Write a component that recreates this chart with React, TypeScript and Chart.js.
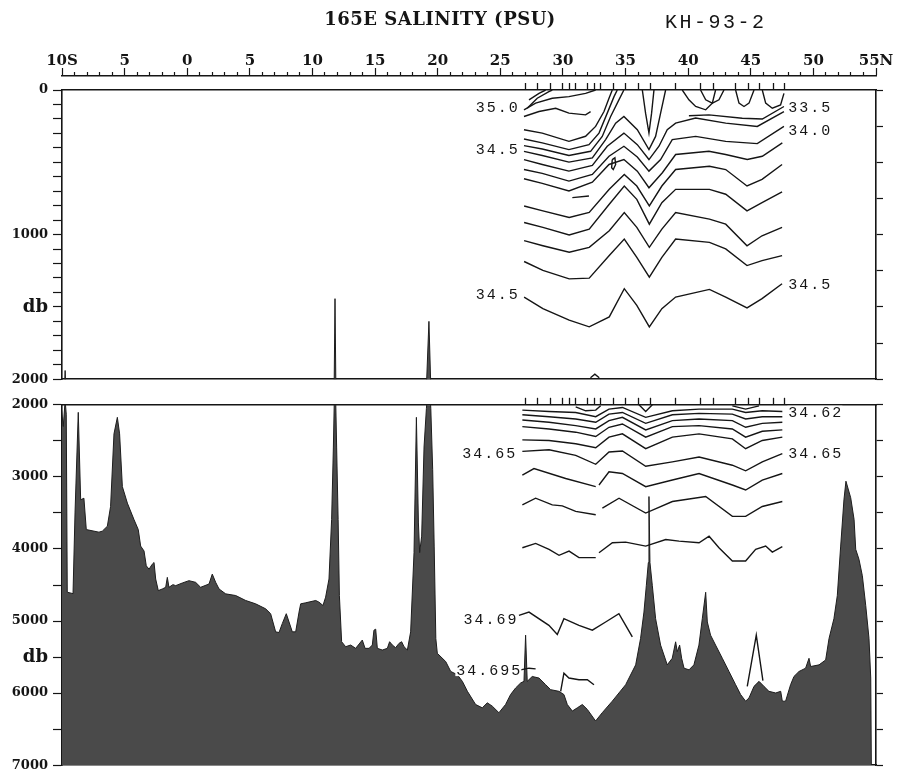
import { useEffect, useRef } from 'react';
import { Chart, registerables } from 'chart.js';
Chart.register(...registerables);

const INK = '#151515';
const LAT_MIN = -10;
const LAT_MAX = 55;

const titleText = '165E SALINITY (PSU)';
const cruiseText = 'KH-93-2';

// ---- axis tick labels ----
const latMajorTicks = [-10, -5, 0, 5, 10, 15, 20, 25, 30, 35, 40, 45, 50, 55];
const latMajorLabels = ['10S', '5', '0', '5', '10', '15', '20', '25', '30', '35', '40', '45', '50', '55N'];
const upperDbTicks = [0, 1000, 1500, 2000];
const upperDbLabels = ['0', '1000', 'db', '2000'];
const lowerDbTicks = [2000, 3000, 4000, 5000, 5500, 6000, 7000];
const lowerDbLabels = ['2000', '3000', '4000', '5000', 'db', '6000', '7000'];

// ---- CTD station latitudes (deg N) ----
const stationLat = [27, 28, 29, 30, 30.5, 31, 32, 32.5, 33, 34, 35, 36, 37, 39, 41, 42, 43.8, 44.8, 45.7, 46.8, 47.7];

// ---- bottom topography [lat, db] ----
const bathymetry: [number, number][] = [
  [-10.2, 2400], [-10.05, 2050], [-9.9, 2300], [-9.75, 1940], [-9.66, 2130], [-9.58, 4600], [-9.12, 4620],
  [-8.96, 3500], [-8.7, 2105], [-8.51, 3318], [-8.25, 3296], [-8.06, 3731], [-7.05, 3767], [-6.78, 3753],
  [-6.38, 3685], [-6.12, 3410], [-5.85, 2403], [-5.58, 2174], [-5.4, 2403], [-5.18, 3135], [-4.78, 3364],
  [-4.25, 3593], [-3.91, 3731], [-3.72, 3960], [-3.45, 4028], [-3.27, 4234], [-3.05, 4280], [-2.79, 4211],
  [-2.65, 4188], [-2.52, 4417], [-2.31, 4578], [-1.99, 4555], [-1.72, 4532], [-1.59, 4394], [-1.46, 4532],
  [-1.14, 4495], [-0.92, 4509], [-0.39, 4472], [0.14, 4440], [0.67, 4463], [1.07, 4532], [1.74, 4486],
  [2.0, 4349], [2.27, 4463], [2.54, 4555], [3.07, 4623], [3.87, 4646], [4.67, 4715], [5.46, 4761],
  [6.26, 4830], [6.66, 4898], [7.06, 5150], [7.33, 5159], [7.59, 5036], [7.91, 4898], [8.13, 5013],
  [8.39, 5150], [8.66, 5150], [8.93, 4875], [9.06, 4761], [9.46, 4747], [10.26, 4715], [10.52, 4738],
  [10.84, 4784], [11.05, 4669], [11.32, 4417], [11.53, 3593], [11.67, 2586], [11.8, 1443], [11.93, 2586],
  [12.05, 3593], [12.15, 4646], [12.33, 5287], [12.65, 5356], [13.05, 5333], [13.45, 5379], [13.98, 5264],
  [14.2, 5379], [14.52, 5379], [14.78, 5333], [14.91, 5127], [15.05, 5113], [15.18, 5379], [15.58, 5402],
  [15.98, 5379], [16.16, 5287], [16.38, 5333], [16.64, 5370], [16.91, 5310], [17.12, 5287], [17.31, 5356],
  [17.58, 5402], [17.84, 5150], [18.11, 4051], [18.3, 2174], [18.46, 3639], [18.56, 4051], [18.72, 3822],
  [18.91, 2586], [19.1, 2050], [19.3, 1600], [19.45, 2050], [19.6, 2900], [19.72, 3960], [19.85, 5242],
  [19.97, 5448], [20.64, 5562], [21.04, 5699], [21.57, 5745], [21.97, 5837], [22.37, 5974], [23.03, 6158],
  [23.56, 6204], [23.96, 6135], [24.36, 6181], [24.89, 6272], [25.42, 6158], [25.82, 6020], [26.22, 5929],
  [26.62, 5860], [26.89, 5837], [27.02, 5196], [27.15, 5837], [27.55, 5769], [28.09, 5791], [28.62, 5883],
  [29.02, 5952], [29.68, 5975], [30.08, 6020], [30.35, 6158], [30.75, 6249], [31.15, 6204], [31.55, 6158],
  [31.95, 6226], [32.61, 6387], [33.14, 6272], [33.94, 6112], [35.01, 5883], [35.81, 5608], [36.2, 5242],
  [36.47, 4876], [36.66, 4509], [36.82, 4189], [36.87, 3273], [36.95, 4189], [37.14, 4509], [37.4, 4967],
  [37.8, 5334], [38.33, 5608], [38.73, 5517], [39.0, 5288], [39.13, 5425], [39.32, 5334], [39.48, 5517],
  [39.67, 5654], [40.07, 5677], [40.46, 5608], [40.86, 5334], [41.13, 4967], [41.4, 4601], [41.53, 5013],
  [41.79, 5196], [42.19, 5334], [42.73, 5517], [43.26, 5700], [43.79, 5883], [44.19, 6020], [44.59, 6112],
  [44.86, 6066], [45.26, 5906], [45.66, 5837], [46.05, 5906], [46.45, 5975], [46.99, 5998], [47.39, 5975],
  [47.52, 6112], [47.78, 6112], [48.18, 5883], [48.45, 5769], [48.85, 5700], [49.38, 5654], [49.65, 5517],
  [49.78, 5631], [50.45, 5608], [50.98, 5540], [51.25, 5242], [51.64, 4967], [51.91, 4647], [52.18, 3960],
  [52.44, 3319], [52.6, 3060], [52.98, 3290], [53.25, 3593], [53.38, 4005], [53.64, 4143], [53.91, 4372],
  [54.18, 4784], [54.44, 5242], [54.58, 5791], [54.63, 6995],
];

// ---- upper section (0-2000 db): deep isohalines on a shared latitude grid ----
const deepLat = [26.9, 28.4, 30.5, 32.1, 33.7, 34.9, 35.9, 36.9, 37.9, 39.0, 41.7, 43.0, 44.7, 45.9, 47.5];
const isoD1 = [802, 836, 882, 847, 687, 584, 664, 802, 664, 550, 527, 550, 664, 618, 515];
const isoD2 = [916, 950, 1003, 962, 790, 664, 756, 928, 779, 687, 687, 721, 836, 779, 705];
const isoD3 = [1042, 1077, 1122, 1088, 973, 847, 950, 1088, 962, 847, 893, 928, 1077, 1008, 950];
const isoD4 = [1186, 1248, 1306, 1301, 1145, 1031, 1157, 1294, 1157, 1031, 1054, 1099, 1214, 1180, 1145];
const iso345 = [1432, 1512, 1592, 1638, 1569, 1374, 1489, 1638, 1512, 1432, 1379, 1432, 1507, 1443, 1340];

// ---- upper section: shallow / frontal isohalines [lat, db] ----
const isoS1: [number, number][] = [[26.89, 275], [28.35, 298], [30.48, 355], [31.81, 320], [32.61, 252], [33.28, 149], [33.68, 57], [33.94, 0]];
const isoS2: [number, number][] = [[26.89, 339], [28.35, 366], [30.48, 412], [32.08, 378], [32.88, 298], [33.54, 160], [34.08, 46], [34.34, 0]];
const isoS3: [number, number][] = [[26.89, 385], [28.35, 408], [30.48, 453], [32.21, 424], [33.14, 321], [33.81, 183], [34.47, 68], [34.87, 0]];
const isoS4: [number, number][] = [[26.89, 424], [28.35, 453], [30.48, 499], [32.35, 469], [33.41, 343], [34.21, 229], [34.87, 183], [35.94, 275], [36.87, 412], [37.4, 321], [37.8, 160], [38.2, 0]];
const isoS5: [number, number][] = [[26.89, 481], [28.35, 515], [30.48, 561], [32.35, 522], [33.54, 389], [34.87, 298], [35.94, 378], [36.87, 481], [37.67, 389], [38.33, 275], [39.0, 229], [40.6, 194], [43.0, 229], [45.52, 252], [47.65, 149]];
const isoS6: [number, number][] = [[26.89, 550], [28.35, 577], [30.48, 630], [32.35, 584], [33.68, 458], [34.87, 389], [35.94, 463], [36.87, 561], [37.8, 481], [38.73, 343], [40.6, 321], [43.0, 355], [45.52, 371], [47.65, 252]];
const isoS7: [number, number][] = [[26.89, 614], [28.35, 646], [30.48, 698], [32.35, 637], [33.68, 515], [34.87, 481], [35.94, 561], [36.87, 676], [37.94, 572], [39.0, 446], [41.66, 424], [42.99, 446], [44.72, 481], [45.92, 458], [47.52, 366]];
const isoT1: [number, number][] = [[26.89, 137], [27.82, 91], [29.15, 57], [30.48, 46], [31.81, 23], [32.61, 0]];
const isoT2: [number, number][] = [[26.89, 183], [28.09, 149], [29.42, 126], [30.48, 160], [31.81, 172], [32.21, 149]];
const isoT3: [number, number][] = [[27.29, 68], [28.09, 23], [28.62, 0]];
const isoT4: [number, number][] = [[27.15, 126], [27.95, 57], [28.88, 11], [29.15, 0]];
const isoV1: [number, number][] = [[36.34, 0], [36.6, 160], [36.87, 298], [37.08, 160], [37.27, 0]];
const isoU1: [number, number][] = [[40.99, 0], [41.4, 68], [41.93, 91], [42.46, 68], [42.86, 0]];
const isoU2: [number, number][] = [[43.79, 0], [44.06, 91], [44.46, 114], [44.86, 91], [45.26, 0]];
const isoU3: [number, number][] = [[45.92, 0], [46.19, 91], [46.72, 126], [47.38, 103], [47.65, 23]];
const isoU4: [number, number][] = [[39.53, 0], [40.06, 68], [40.6, 114], [41.4, 137], [41.93, 91], [42.19, 0]];
const isoR0: [number, number][] = [[40.06, 178], [41.66, 172], [44.32, 195], [45.92, 201], [47.65, 114]];
const isoLoop: [number, number][] = [[33.94, 481], [34.15, 469], [34.21, 515], [34.02, 550], [33.89, 538], [33.94, 481]];
const isoDash: [number, number][] = [[30.75, 744], [32.08, 733]];
const isoArc: [number, number][] = [[32.2, 1990], [32.55, 1965], [32.9, 1990]];

// ---- lower section (2000-7000 db) ----
const lowerLat = [26.76, 28.89, 31.02, 32.62, 33.68, 34.75, 36.61, 38.74, 40.87, 43.53, 44.59, 45.92, 47.52];
const isoK1 = [2074, 2092, 2106, 2165, 2060, 2037, 2174, 2083, 2060, 2060, 2106, 2083, 2092];
const isoK2 = [2138, 2165, 2197, 2243, 2129, 2106, 2257, 2138, 2119, 2129, 2197, 2165, 2165];
const isoK3 = [2211, 2243, 2289, 2335, 2220, 2174, 2348, 2220, 2197, 2220, 2312, 2257, 2243];
const isoK4 = [2303, 2335, 2380, 2440, 2312, 2266, 2449, 2303, 2289, 2335, 2449, 2367, 2348];
const isoK5 = [2486, 2495, 2541, 2596, 2449, 2403, 2609, 2449, 2403, 2472, 2609, 2495, 2449];
const iso3465 = [2646, 2623, 2701, 2825, 2655, 2641, 2852, 2792, 2724, 2838, 2916, 2792, 2678];
const isoK7a: [number, number][] = [[26.76, 2976], [27.69, 2884], [30.22, 3022], [32.62, 3136]];
const isoK7b: [number, number][] = [[32.88, 3113], [33.68, 2930], [34.75, 2953], [36.61, 3136], [38.74, 3044], [40.87, 2953], [43.53, 3113], [44.59, 3182], [45.92, 3044], [47.52, 2953]];
const isoK8a: [number, number][] = [[26.76, 3388], [27.82, 3296], [29.15, 3388], [29.95, 3402], [31.02, 3479], [32.62, 3525]];
const isoK8b: [number, number][] = [[33.15, 3434], [34.48, 3296], [36.61, 3502], [38.74, 3342], [41.4, 3273], [43.53, 3548], [44.59, 3548], [45.92, 3411], [47.52, 3342]];
const isoK9a: [number, number][] = [[26.76, 3983], [27.82, 3923], [28.89, 4006], [29.69, 4088], [30.49, 4029], [31.28, 4120], [32.62, 4120]];
const isoK9b: [number, number][] = [[32.88, 4052], [33.95, 3914], [35.01, 3905], [36.61, 3960], [38.21, 3869], [39.27, 3891], [40.87, 3914], [41.67, 3823], [42.46, 3983], [43.53, 4166], [44.59, 4166], [45.39, 4006], [46.19, 3960], [46.72, 4043], [47.52, 3969]];
const iso3469: [number, number][] = [[26.49, 4921], [27.29, 4876], [28.88, 5059], [29.55, 5187], [30.08, 4967], [31.28, 5059], [32.35, 5127], [33.41, 5013], [34.47, 4898], [35.01, 5059], [35.54, 5219]];
const iso34695a: [number, number][] = [[26.62, 5677], [27.29, 5654], [27.82, 5663]];
const iso34695b: [number, number][] = [[29.82, 5975], [30.08, 5723], [30.48, 5791], [31.28, 5814], [31.95, 5814], [32.48, 5883]];
const isoPeak45: [number, number][] = [[44.72, 5906], [45.44, 5196], [45.97, 5828]];
const isoArcA: [number, number][] = [[31.02, 2028], [31.82, 2083], [32.62, 2074], [33.01, 2014]];
const isoArcB: [number, number][] = [[36.07, 2000], [36.61, 2092], [37.14, 2000]];
const isoArcC: [number, number][] = [[43.53, 2014], [44.59, 2060], [45.66, 2014]];

// ---- contour value labels ----
const upperLabelText = ['35.0', '34.5', '34.5', '33.5', '34.0', '34.5'];
const upperLabelLat = [26.4, 26.4, 26.4, 48.0, 48.0, 48.0];
const upperLabelDb = [117, 405, 1409, 117, 275, 1340];
const upperLabelSide = ['right', 'right', 'right', 'left', 'left', 'left'];
const lowerLabelText = ['34.62', '34.65', '34.65', '34.69', '34.695'];
const lowerLabelLat = [48.0, 48.0, 26.2, 26.3, 26.6];
const lowerLabelDb = [2096, 2673, 2673, 4967, 5681];
const lowerLabelSide = ['left', 'left', 'right', 'right', 'right'];

// ---------------------------------------------------------------------------

const pairs = (lat: number[], db: number[]): [number, number][] => lat.map((x, i) => [x, db[i]]);

function contour(points: [number, number][]) {
  return {
    data: points.map(([x, y]) => ({ x, y })),
    borderColor: INK,
    borderWidth: 1.4,
    pointRadius: 0,
    fill: false,
    tension: 0,
    order: 0,
  };
}

function bathyDataset(bottom: number) {
  return {
    data: bathymetry.map(([x, y]) => ({ x, y })),
    borderColor: '#1e1e1e',
    borderWidth: 1,
    backgroundColor: '#4a4a4a',
    pointRadius: 0,
    fill: { value: bottom },
    tension: 0,
    order: 1,
  };
}

function rangeTicks(min: number, max: number, step: number) {
  const t: { value: number }[] = [];
  for (let v = min; v <= max + 1e-9; v += step) t.push({ value: v });
  return t;
}

const serifBold = (size: number) => ({ family: '"DejaVu Serif"', weight: 'bold' as const, size });

function stationAxis(height: number) {
  return {
    type: 'linear',
    position: 'top',
    weight: 0,
    min: LAT_MIN,
    max: LAT_MAX,
    afterBuildTicks: (s: any) => { s.ticks = stationLat.map((v) => ({ value: v })); },
    afterFit: (s: any) => { s.height = height; },
    ticks: { display: false, autoSkip: false },
    grid: { drawOnChartArea: false, drawTicks: true, tickLength: 7, tickWidth: 1.3, tickColor: INK },
    border: { display: true, width: 1.6, color: INK },
  };
}

function depthAxis(min: number, max: number, step: number, tickVals: number[], tickLabels: string[]) {
  return {
    type: 'linear',
    position: 'left',
    reverse: true,
    min,
    max,
    afterBuildTicks: (s: any) => { s.ticks = rangeTicks(min, max, step); },
    afterFit: (s: any) => { s.width = 62; },
    ticks: {
      autoSkip: false,
      padding: 5,
      color: INK,
      callback: (v: any) => {
        const i = tickVals.indexOf(Number(v));
        return i >= 0 ? tickLabels[i] : '';
      },
      font: (c: any) => {
        const i = tickVals.indexOf(c.tick ? c.tick.value : NaN);
        return serifBold(i >= 0 && tickLabels[i] === 'db' ? 18 : 13);
      },
    },
    grid: { drawOnChartArea: false, tickLength: 9, tickWidth: 1.2, tickColor: INK },
    border: { display: true, width: 1.6, color: INK },
  };
}

function rightAxis(min: number, max: number, step: number) {
  return {
    type: 'linear',
    position: 'right',
    reverse: true,
    min,
    max,
    afterBuildTicks: (s: any) => { s.ticks = rangeTicks(min, max, step); },
    afterFit: (s: any) => { s.width = 23; },
    ticks: { display: false, autoSkip: false },
    grid: { drawOnChartArea: false, tickLength: 7, tickWidth: 1.2, tickColor: INK },
    border: { display: true, width: 1.6, color: INK },
  };
}

function bottomAxis(height: number) {
  return {
    type: 'linear',
    position: 'bottom',
    min: LAT_MIN,
    max: LAT_MAX,
    afterFit: (s: any) => { s.height = height; },
    ticks: { display: false },
    grid: { drawOnChartArea: false, drawTicks: false },
    border: { display: true, width: 1.6, color: INK },
  };
}

function textLayer(texts: string[], lats: number[], dbs: number[], sides: string[], withTitle: boolean) {
  return {
    id: 'textLayer',
    afterDraw(chart: any) {
      const ctx = chart.ctx as CanvasRenderingContext2D;
      const xs = chart.scales.x;
      const ys = chart.scales.y;
      ctx.save();
      ctx.font = '15px "Liberation Mono"';
      (ctx as any).letterSpacing = '2px';
      ctx.textBaseline = 'middle';
      ctx.textAlign = 'left';
      texts.forEach((t, i) => {
        const w = ctx.measureText(t).width - 2;
        const px = xs.getPixelForValue(lats[i]);
        const py = ys.getPixelForValue(dbs[i]);
        const left = sides[i] === 'right' ? px - w : px;
        ctx.fillStyle = '#ffffff';
        ctx.fillRect(left - 1, py - 6, w + 2, 12);
        ctx.fillStyle = INK;
        ctx.fillText(t, left, py + 1);
      });
      if (withTitle) {
        ctx.textBaseline = 'alphabetic';
        (ctx as any).letterSpacing = '0.5px';
        ctx.font = 'bold 18px "DejaVu Serif"';
        ctx.textAlign = 'center';
        ctx.fillText(titleText, 440, 25);
        (ctx as any).letterSpacing = '2.5px';
        ctx.font = '20px "Liberation Mono"';
        ctx.textAlign = 'left';
        ctx.fillText(cruiseText, 665, 28);
      }
      ctx.restore();
    },
  };
}

function upperConfig(): any {
  const lines = [
    pairs(deepLat, isoD1), pairs(deepLat, isoD2), pairs(deepLat, isoD3), pairs(deepLat, isoD4), pairs(deepLat, iso345),
    isoS1, isoS2, isoS3, isoS4, isoS5, isoS6, isoS7, isoT1, isoT2, isoT3, isoT4, isoV1,
    isoU1, isoU2, isoU3, isoU4, isoR0, isoLoop, isoDash, isoArc,
  ];
  return {
    type: 'line',
    data: { datasets: [bathyDataset(2000), ...lines.map(contour)] },
    options: {
      responsive: false,
      devicePixelRatio: 1,
      animation: false,
      events: [],
      layout: { padding: { left: 0, right: 0, top: 0, bottom: 0 } },
      plugins: { legend: { display: false }, tooltip: { enabled: false }, title: { display: false } },
      scales: {
        x: stationAxis(14),
        xDeg: {
          type: 'linear',
          position: 'top',
          weight: 1,
          min: LAT_MIN,
          max: LAT_MAX,
          afterBuildTicks: (s: any) => { s.ticks = rangeTicks(LAT_MIN, LAT_MAX, 1); },
          afterFit: (s: any) => { s.height = 76; },
          ticks: {
            autoSkip: false,
            maxRotation: 0,
            minRotation: 0,
            padding: -2,
            color: INK,
            font: serifBold(15),
            callback: (v: any) => {
              const i = latMajorTicks.indexOf(Number(v));
              return i >= 0 ? latMajorLabels[i] : '';
            },
          },
          grid: {
            drawOnChartArea: false,
            tickLength: 8,
            tickWidth: 1.2,
            tickColor: INK,
            tickBorderDash: [8, 4],
            tickBorderDashOffset: (c: any) => (c.tick && latMajorTicks.includes(c.tick.value) ? 0 : 8),
          },
          border: { display: true, width: 1.6, color: INK },
        },
        xb: bottomAxis(11),
        y: depthAxis(0, 2000, 100, upperDbTicks, upperDbLabels),
        yr: rightAxis(0, 2000, 250),
      },
    },
    plugins: [textLayer(upperLabelText, upperLabelLat, upperLabelDb, upperLabelSide, true)],
  };
}

function lowerConfig(): any {
  const lines = [
    pairs(lowerLat, isoK1), pairs(lowerLat, isoK2), pairs(lowerLat, isoK3), pairs(lowerLat, isoK4), pairs(lowerLat, isoK5),
    pairs(lowerLat, iso3465), isoK7a, isoK7b, isoK8a, isoK8b, isoK9a, isoK9b, iso3469, iso34695a, iso34695b,
    isoPeak45, isoArcA, isoArcB, isoArcC,
  ];
  return {
    type: 'line',
    data: { datasets: [bathyDataset(7000), ...lines.map(contour)] },
    options: {
      responsive: false,
      devicePixelRatio: 1,
      animation: false,
      events: [],
      layout: { padding: 0 },
      plugins: { legend: { display: false }, tooltip: { enabled: false }, title: { display: false } },
      scales: {
        x: stationAxis(12),
        xb: bottomAxis(10),
        y: depthAxis(2000, 7000, 500, lowerDbTicks, lowerDbLabels),
        yr: rightAxis(2000, 7000, 500),
      },
    },
    plugins: [textLayer(lowerLabelText, lowerLabelLat, lowerLabelDb, lowerLabelSide, false)],
  };
}

export default function App() {
  const upRef = useRef<HTMLCanvasElement>(null);
  const loRef = useRef<HTMLCanvasElement>(null);
  useEffect(() => {
    const up = new Chart(upRef.current as HTMLCanvasElement, upperConfig());
    const lo = new Chart(loRef.current as HTMLCanvasElement, lowerConfig());
    return () => {
      up.destroy();
      lo.destroy();
    };
  }, []);
  return (
    <div style={{ position: 'absolute', left: 0, top: 0, width: 899, height: 778, background: '#ffffff', overflow: 'hidden' }}>
      <canvas ref={upRef} width={899} height={392} style={{ position: 'absolute', left: 0, top: 0, width: 899, height: 392 }} />
      <canvas ref={loRef} width={899} height={386} style={{ position: 'absolute', left: 0, top: 392, width: 899, height: 386 }} />
    </div>
  );
}
